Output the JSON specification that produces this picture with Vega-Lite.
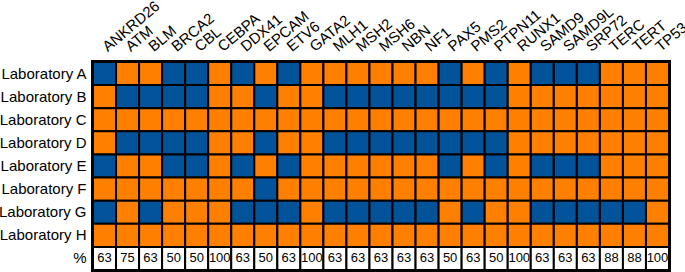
{
  "$schema": "https://vega.github.io/schema/vega-lite/v6.json",
  "width": 576,
  "height": 208,
  "autosize": {"type": "none"},
  "padding": {"left": 93, "top": 62, "right": 16, "bottom": 2},
  "background": "white",
  "config": {"view": {"stroke": "black", "strokeWidth": 4}, "font": "Liberation Sans"},
  "datasets": {
    "cells": [
      {"lab":"Laboratory A","gene":"ANKRD26","covered":"no"},{"lab":"Laboratory A","gene":"ATM","covered":"yes"},{"lab":"Laboratory A","gene":"BLM","covered":"yes"},{"lab":"Laboratory A","gene":"BRCA2","covered":"no"},{"lab":"Laboratory A","gene":"CBL","covered":"no"},{"lab":"Laboratory A","gene":"CEBPA","covered":"yes"},{"lab":"Laboratory A","gene":"DDX41","covered":"no"},{"lab":"Laboratory A","gene":"EPCAM","covered":"yes"},{"lab":"Laboratory A","gene":"ETV6","covered":"no"},{"lab":"Laboratory A","gene":"GATA2","covered":"yes"},{"lab":"Laboratory A","gene":"MLH1","covered":"yes"},{"lab":"Laboratory A","gene":"MSH2","covered":"yes"},{"lab":"Laboratory A","gene":"MSH6","covered":"yes"},{"lab":"Laboratory A","gene":"NBN","covered":"yes"},{"lab":"Laboratory A","gene":"NF1","covered":"yes"},{"lab":"Laboratory A","gene":"PAX5","covered":"no"},{"lab":"Laboratory A","gene":"PMS2","covered":"yes"},{"lab":"Laboratory A","gene":"PTPN11","covered":"no"},{"lab":"Laboratory A","gene":"RUNX1","covered":"yes"},{"lab":"Laboratory A","gene":"SAMD9","covered":"no"},{"lab":"Laboratory A","gene":"SAMD9L","covered":"no"},{"lab":"Laboratory A","gene":"SRP72","covered":"no"},{"lab":"Laboratory A","gene":"TERC","covered":"yes"},{"lab":"Laboratory A","gene":"TERT","covered":"yes"},{"lab":"Laboratory A","gene":"TP53","covered":"yes"},
      {"lab":"Laboratory B","gene":"ANKRD26","covered":"yes"},{"lab":"Laboratory B","gene":"ATM","covered":"no"},{"lab":"Laboratory B","gene":"BLM","covered":"no"},{"lab":"Laboratory B","gene":"BRCA2","covered":"no"},{"lab":"Laboratory B","gene":"CBL","covered":"no"},{"lab":"Laboratory B","gene":"CEBPA","covered":"yes"},{"lab":"Laboratory B","gene":"DDX41","covered":"yes"},{"lab":"Laboratory B","gene":"EPCAM","covered":"no"},{"lab":"Laboratory B","gene":"ETV6","covered":"yes"},{"lab":"Laboratory B","gene":"GATA2","covered":"yes"},{"lab":"Laboratory B","gene":"MLH1","covered":"no"},{"lab":"Laboratory B","gene":"MSH2","covered":"no"},{"lab":"Laboratory B","gene":"MSH6","covered":"no"},{"lab":"Laboratory B","gene":"NBN","covered":"no"},{"lab":"Laboratory B","gene":"NF1","covered":"no"},{"lab":"Laboratory B","gene":"PAX5","covered":"no"},{"lab":"Laboratory B","gene":"PMS2","covered":"no"},{"lab":"Laboratory B","gene":"PTPN11","covered":"no"},{"lab":"Laboratory B","gene":"RUNX1","covered":"yes"},{"lab":"Laboratory B","gene":"SAMD9","covered":"yes"},{"lab":"Laboratory B","gene":"SAMD9L","covered":"yes"},{"lab":"Laboratory B","gene":"SRP72","covered":"yes"},{"lab":"Laboratory B","gene":"TERC","covered":"yes"},{"lab":"Laboratory B","gene":"TERT","covered":"yes"},{"lab":"Laboratory B","gene":"TP53","covered":"yes"},
      {"lab":"Laboratory C","gene":"ANKRD26","covered":"yes"},{"lab":"Laboratory C","gene":"ATM","covered":"yes"},{"lab":"Laboratory C","gene":"BLM","covered":"yes"},{"lab":"Laboratory C","gene":"BRCA2","covered":"yes"},{"lab":"Laboratory C","gene":"CBL","covered":"yes"},{"lab":"Laboratory C","gene":"CEBPA","covered":"yes"},{"lab":"Laboratory C","gene":"DDX41","covered":"yes"},{"lab":"Laboratory C","gene":"EPCAM","covered":"yes"},{"lab":"Laboratory C","gene":"ETV6","covered":"yes"},{"lab":"Laboratory C","gene":"GATA2","covered":"yes"},{"lab":"Laboratory C","gene":"MLH1","covered":"yes"},{"lab":"Laboratory C","gene":"MSH2","covered":"yes"},{"lab":"Laboratory C","gene":"MSH6","covered":"yes"},{"lab":"Laboratory C","gene":"NBN","covered":"yes"},{"lab":"Laboratory C","gene":"NF1","covered":"yes"},{"lab":"Laboratory C","gene":"PAX5","covered":"yes"},{"lab":"Laboratory C","gene":"PMS2","covered":"yes"},{"lab":"Laboratory C","gene":"PTPN11","covered":"yes"},{"lab":"Laboratory C","gene":"RUNX1","covered":"yes"},{"lab":"Laboratory C","gene":"SAMD9","covered":"yes"},{"lab":"Laboratory C","gene":"SAMD9L","covered":"yes"},{"lab":"Laboratory C","gene":"SRP72","covered":"yes"},{"lab":"Laboratory C","gene":"TERC","covered":"yes"},{"lab":"Laboratory C","gene":"TERT","covered":"yes"},{"lab":"Laboratory C","gene":"TP53","covered":"yes"},
      {"lab":"Laboratory D","gene":"ANKRD26","covered":"yes"},{"lab":"Laboratory D","gene":"ATM","covered":"no"},{"lab":"Laboratory D","gene":"BLM","covered":"no"},{"lab":"Laboratory D","gene":"BRCA2","covered":"no"},{"lab":"Laboratory D","gene":"CBL","covered":"no"},{"lab":"Laboratory D","gene":"CEBPA","covered":"yes"},{"lab":"Laboratory D","gene":"DDX41","covered":"yes"},{"lab":"Laboratory D","gene":"EPCAM","covered":"no"},{"lab":"Laboratory D","gene":"ETV6","covered":"yes"},{"lab":"Laboratory D","gene":"GATA2","covered":"yes"},{"lab":"Laboratory D","gene":"MLH1","covered":"no"},{"lab":"Laboratory D","gene":"MSH2","covered":"no"},{"lab":"Laboratory D","gene":"MSH6","covered":"no"},{"lab":"Laboratory D","gene":"NBN","covered":"no"},{"lab":"Laboratory D","gene":"NF1","covered":"no"},{"lab":"Laboratory D","gene":"PAX5","covered":"no"},{"lab":"Laboratory D","gene":"PMS2","covered":"no"},{"lab":"Laboratory D","gene":"PTPN11","covered":"no"},{"lab":"Laboratory D","gene":"RUNX1","covered":"yes"},{"lab":"Laboratory D","gene":"SAMD9","covered":"yes"},{"lab":"Laboratory D","gene":"SAMD9L","covered":"yes"},{"lab":"Laboratory D","gene":"SRP72","covered":"yes"},{"lab":"Laboratory D","gene":"TERC","covered":"yes"},{"lab":"Laboratory D","gene":"TERT","covered":"yes"},{"lab":"Laboratory D","gene":"TP53","covered":"yes"},
      {"lab":"Laboratory E","gene":"ANKRD26","covered":"no"},{"lab":"Laboratory E","gene":"ATM","covered":"yes"},{"lab":"Laboratory E","gene":"BLM","covered":"yes"},{"lab":"Laboratory E","gene":"BRCA2","covered":"no"},{"lab":"Laboratory E","gene":"CBL","covered":"no"},{"lab":"Laboratory E","gene":"CEBPA","covered":"yes"},{"lab":"Laboratory E","gene":"DDX41","covered":"no"},{"lab":"Laboratory E","gene":"EPCAM","covered":"yes"},{"lab":"Laboratory E","gene":"ETV6","covered":"no"},{"lab":"Laboratory E","gene":"GATA2","covered":"yes"},{"lab":"Laboratory E","gene":"MLH1","covered":"yes"},{"lab":"Laboratory E","gene":"MSH2","covered":"yes"},{"lab":"Laboratory E","gene":"MSH6","covered":"yes"},{"lab":"Laboratory E","gene":"NBN","covered":"yes"},{"lab":"Laboratory E","gene":"NF1","covered":"yes"},{"lab":"Laboratory E","gene":"PAX5","covered":"no"},{"lab":"Laboratory E","gene":"PMS2","covered":"yes"},{"lab":"Laboratory E","gene":"PTPN11","covered":"no"},{"lab":"Laboratory E","gene":"RUNX1","covered":"yes"},{"lab":"Laboratory E","gene":"SAMD9","covered":"no"},{"lab":"Laboratory E","gene":"SAMD9L","covered":"no"},{"lab":"Laboratory E","gene":"SRP72","covered":"no"},{"lab":"Laboratory E","gene":"TERC","covered":"yes"},{"lab":"Laboratory E","gene":"TERT","covered":"yes"},{"lab":"Laboratory E","gene":"TP53","covered":"yes"},
      {"lab":"Laboratory F","gene":"ANKRD26","covered":"yes"},{"lab":"Laboratory F","gene":"ATM","covered":"yes"},{"lab":"Laboratory F","gene":"BLM","covered":"yes"},{"lab":"Laboratory F","gene":"BRCA2","covered":"yes"},{"lab":"Laboratory F","gene":"CBL","covered":"yes"},{"lab":"Laboratory F","gene":"CEBPA","covered":"yes"},{"lab":"Laboratory F","gene":"DDX41","covered":"yes"},{"lab":"Laboratory F","gene":"EPCAM","covered":"no"},{"lab":"Laboratory F","gene":"ETV6","covered":"yes"},{"lab":"Laboratory F","gene":"GATA2","covered":"yes"},{"lab":"Laboratory F","gene":"MLH1","covered":"yes"},{"lab":"Laboratory F","gene":"MSH2","covered":"yes"},{"lab":"Laboratory F","gene":"MSH6","covered":"yes"},{"lab":"Laboratory F","gene":"NBN","covered":"yes"},{"lab":"Laboratory F","gene":"NF1","covered":"yes"},{"lab":"Laboratory F","gene":"PAX5","covered":"yes"},{"lab":"Laboratory F","gene":"PMS2","covered":"yes"},{"lab":"Laboratory F","gene":"PTPN11","covered":"yes"},{"lab":"Laboratory F","gene":"RUNX1","covered":"yes"},{"lab":"Laboratory F","gene":"SAMD9","covered":"yes"},{"lab":"Laboratory F","gene":"SAMD9L","covered":"yes"},{"lab":"Laboratory F","gene":"SRP72","covered":"yes"},{"lab":"Laboratory F","gene":"TERC","covered":"yes"},{"lab":"Laboratory F","gene":"TERT","covered":"yes"},{"lab":"Laboratory F","gene":"TP53","covered":"yes"},
      {"lab":"Laboratory G","gene":"ANKRD26","covered":"no"},{"lab":"Laboratory G","gene":"ATM","covered":"yes"},{"lab":"Laboratory G","gene":"BLM","covered":"no"},{"lab":"Laboratory G","gene":"BRCA2","covered":"yes"},{"lab":"Laboratory G","gene":"CBL","covered":"yes"},{"lab":"Laboratory G","gene":"CEBPA","covered":"yes"},{"lab":"Laboratory G","gene":"DDX41","covered":"no"},{"lab":"Laboratory G","gene":"EPCAM","covered":"no"},{"lab":"Laboratory G","gene":"ETV6","covered":"no"},{"lab":"Laboratory G","gene":"GATA2","covered":"yes"},{"lab":"Laboratory G","gene":"MLH1","covered":"no"},{"lab":"Laboratory G","gene":"MSH2","covered":"no"},{"lab":"Laboratory G","gene":"MSH6","covered":"no"},{"lab":"Laboratory G","gene":"NBN","covered":"no"},{"lab":"Laboratory G","gene":"NF1","covered":"no"},{"lab":"Laboratory G","gene":"PAX5","covered":"yes"},{"lab":"Laboratory G","gene":"PMS2","covered":"no"},{"lab":"Laboratory G","gene":"PTPN11","covered":"yes"},{"lab":"Laboratory G","gene":"RUNX1","covered":"yes"},{"lab":"Laboratory G","gene":"SAMD9","covered":"no"},{"lab":"Laboratory G","gene":"SAMD9L","covered":"no"},{"lab":"Laboratory G","gene":"SRP72","covered":"no"},{"lab":"Laboratory G","gene":"TERC","covered":"no"},{"lab":"Laboratory G","gene":"TERT","covered":"no"},{"lab":"Laboratory G","gene":"TP53","covered":"yes"},
      {"lab":"Laboratory H","gene":"ANKRD26","covered":"yes"},{"lab":"Laboratory H","gene":"ATM","covered":"yes"},{"lab":"Laboratory H","gene":"BLM","covered":"yes"},{"lab":"Laboratory H","gene":"BRCA2","covered":"yes"},{"lab":"Laboratory H","gene":"CBL","covered":"yes"},{"lab":"Laboratory H","gene":"CEBPA","covered":"yes"},{"lab":"Laboratory H","gene":"DDX41","covered":"yes"},{"lab":"Laboratory H","gene":"EPCAM","covered":"yes"},{"lab":"Laboratory H","gene":"ETV6","covered":"yes"},{"lab":"Laboratory H","gene":"GATA2","covered":"yes"},{"lab":"Laboratory H","gene":"MLH1","covered":"yes"},{"lab":"Laboratory H","gene":"MSH2","covered":"yes"},{"lab":"Laboratory H","gene":"MSH6","covered":"yes"},{"lab":"Laboratory H","gene":"NBN","covered":"yes"},{"lab":"Laboratory H","gene":"NF1","covered":"yes"},{"lab":"Laboratory H","gene":"PAX5","covered":"yes"},{"lab":"Laboratory H","gene":"PMS2","covered":"yes"},{"lab":"Laboratory H","gene":"PTPN11","covered":"yes"},{"lab":"Laboratory H","gene":"RUNX1","covered":"yes"},{"lab":"Laboratory H","gene":"SAMD9","covered":"yes"},{"lab":"Laboratory H","gene":"SAMD9L","covered":"yes"},{"lab":"Laboratory H","gene":"SRP72","covered":"yes"},{"lab":"Laboratory H","gene":"TERC","covered":"yes"},{"lab":"Laboratory H","gene":"TERT","covered":"yes"},{"lab":"Laboratory H","gene":"TP53","covered":"yes"}
    ],
    "pct": [
      {"lab":"%","gene":"ANKRD26","pct":63},{"lab":"%","gene":"ATM","pct":75},{"lab":"%","gene":"BLM","pct":63},{"lab":"%","gene":"BRCA2","pct":50},{"lab":"%","gene":"CBL","pct":50},{"lab":"%","gene":"CEBPA","pct":100},{"lab":"%","gene":"DDX41","pct":63},{"lab":"%","gene":"EPCAM","pct":50},{"lab":"%","gene":"ETV6","pct":63},{"lab":"%","gene":"GATA2","pct":100},{"lab":"%","gene":"MLH1","pct":63},{"lab":"%","gene":"MSH2","pct":63},{"lab":"%","gene":"MSH6","pct":63},{"lab":"%","gene":"NBN","pct":63},{"lab":"%","gene":"NF1","pct":63},{"lab":"%","gene":"PAX5","pct":50},{"lab":"%","gene":"PMS2","pct":63},{"lab":"%","gene":"PTPN11","pct":50},{"lab":"%","gene":"RUNX1","pct":100},{"lab":"%","gene":"SAMD9","pct":63},{"lab":"%","gene":"SAMD9L","pct":63},{"lab":"%","gene":"SRP72","pct":63},{"lab":"%","gene":"TERC","pct":88},{"lab":"%","gene":"TERT","pct":88},{"lab":"%","gene":"TP53","pct":100}
    ]
  },
  "encoding": {
    "x": {
      "field": "gene", "type": "nominal",
      "sort": ["ANKRD26","ATM","BLM","BRCA2","CBL","CEBPA","DDX41","EPCAM","ETV6","GATA2","MLH1","MSH2","MSH6","NBN","NF1","PAX5","PMS2","PTPN11","RUNX1","SAMD9","SAMD9L","SRP72","TERC","TERT","TP53"],
      "scale": {"paddingInner": 0, "paddingOuter": 0},
      "axis": {"orient": "top", "title": null, "domain": false, "ticks": false, "labelAngle": -40, "labelAlign": "left", "labelBaseline": "middle", "labelFontSize": 15, "labelPadding": 14, "labelColor": "black", "labelFont": "Liberation Sans", "labelOverlap": false, "labelBound": false}
    },
    "y": {
      "field": "lab", "type": "nominal",
      "scale": {"domain": ["Laboratory A","Laboratory B","Laboratory C","Laboratory D","Laboratory E","Laboratory F","Laboratory G","Laboratory H","%"], "paddingInner": 0, "paddingOuter": 0},
      "axis": {"title": null, "domain": false, "ticks": false, "labelFontSize": 15, "labelPadding": 7, "labelColor": "black", "labelFont": "Liberation Sans"}
    }
  },
  "layer": [
    {
      "data": {"name": "cells"},
      "mark": {"type": "rect", "stroke": "black", "strokeWidth": 2},
      "encoding": {
        "color": {"field": "covered", "type": "nominal", "scale": {"domain": ["yes","no"], "range": ["#ff7f00","#03539a"]}, "legend": null}
      }
    },
    {
      "data": {"name": "pct"},
      "mark": {"type": "rect", "fill": "white", "stroke": "black", "strokeWidth": 2}
    },
    {
      "data": {"name": "pct"},
      "mark": {"type": "text", "fontSize": 13, "color": "black", "font": "Liberation Sans"},
      "encoding": {"text": {"field": "pct", "type": "quantitative"}}
    }
  ]
}
